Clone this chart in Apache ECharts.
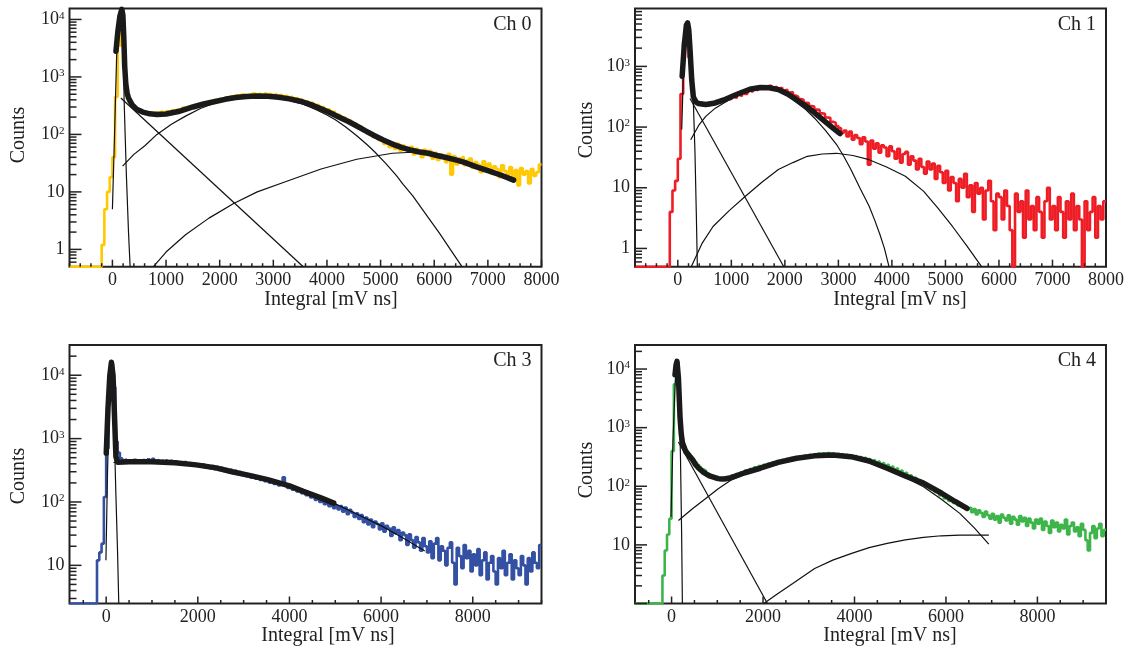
<!DOCTYPE html>
<html><head><meta charset="utf-8">
<script src="https://cdn.jsdelivr.net/npm/echarts@6.0.0/dist/echarts.min.js"></script>
<style>html,body{margin:0;padding:0;background:#fff}#c{width:1133px;height:648px}</style>
</head><body><div id="c"></div>
<script>
// ---------- DATA (bin width 50 mV ns, first bin edge -800) ----------
const ch0Counts = [
0,0,0,0,0,0,0,0,0,0,
0,0,1.2,5,10,18,40,450,3500,9500,
1400,480,360,300,292,262,270,240,248,228,
236,218,242,226,248,222,252,238,262,244,
270,248,292,266,276,305,318,296,336,312,
352,330,372,350,396,368,415,392,438,410,
462,432,478,450,495,470,482,505,518,490,
512,480,520,492,508,478,500,470,488,455,
472,440,450,418,430,398,405,372,380,350,
355,320,328,298,300,272,276,245,250,222,
218,196,196,172,176,152,156,134,138,118,
118,102,104,90,92,80,82,68,76,60,
72,56,69,52,64,58,50,61,45,56,
49,40,54,44,52,38,48,36,45,40,
33,46,20,42,30,38,41,29,35,38,
26,33,30,22,34,27,31,21,28,25,
18,29,23,20,27,16,24,13,26,20,
23,14,25,19,22,30];
const ch1Counts = [
0,0,0,0,0,0,0,0,0,0,
0,0,0,4,9,13,30,350,2600,5000,
1400,400,290,245,252,230,246,228,252,238,
268,250,285,268,305,284,322,300,345,322,
382,352,405,378,430,400,455,425,472,440,
478,442,465,428,448,405,410,372,378,332,
318,290,282,252,250,222,218,194,192,168,
166,144,142,122,118,104,96,80,88,70,
84,62,74,66,52,68,58,24,60,44,
54,38,50,46,33,48,40,30,44,26,
36,39,24,33,28,20,30,22,17,27,
20,25,14,23,18,12,19,9,15,12,
6,14,10,17,7,11,4,12,8,10,
3,9,13,6,2,8,7,3,9,5,
2,0,8,4,6,1.5,9,3,5,2,
7,4,1.5,6,10,3,5,2,7,4,
1.5,6,3,8,2,5,3,0,6,2,
4,7,1.5,5,3,6];
const ch3Counts = [
0,0,0,0,0,0,0,0,0,0,
0,0,12,16,22,120,700,6000,15000,6500,
900,600,490,455,470,428,452,420,462,430,
448,415,458,425,470,432,478,440,462,428,
455,418,450,412,446,408,440,402,432,398,
428,390,418,382,410,372,400,362,390,352,
378,342,368,330,356,320,345,308,332,298,
322,288,310,276,298,266,285,254,272,242,
262,232,250,222,240,212,230,202,218,192,
208,182,198,245,188,166,178,156,168,146,
158,138,148,128,138,118,128,108,118,100,
110,92,102,86,96,80,88,76,86,70,
82,64,75,68,58,66,54,62,48,57,
44,53,40,49,45,37,46,34,42,38,
29,40,32,36,25,33,30,21,31,25,
19,28,23,17,27,20,16,24,13,22,
27,12,20,17,10,19,23,11,5,19,
14,9,21,13,17,8,15,10,18,7,
12,16,6,11,14,8,5,13,9,17,
7,11,15,6,12,9,7,14,10,5,
13,8,16,11,9,21];
const ch4Counts = [
0,0,0,0,0,0,0,0,0,0,
0,0,3,8,15,28,400,5500,13000,2000,
650,480,410,360,320,288,258,232,212,195,
185,162,160,142,146,132,140,126,138,130,
142,132,152,140,162,150,172,160,185,172,
196,182,210,194,222,205,232,215,244,226,
256,236,268,248,280,260,290,270,302,282,
312,292,322,302,334,312,345,322,352,330,
360,336,365,340,368,342,366,340,362,336,
358,330,350,322,342,314,334,305,322,294,
310,282,296,268,282,255,268,240,252,226,
236,210,220,194,204,180,188,165,172,150,
156,136,142,122,128,110,116,100,104,90,
92,80,82,70,72,62,66,56,60,52,
54,47,50,44,46,41,44,36,41,33,
39,35,30,37,32,28,34,27,31,24,
33,29,26,32,23,30,27,22,31,25,
29,21,28,24,19,27,23,28,18,25,
21,16,26,20,24,17,22,19,27,15,
21,24,17,20,14,23,18,12,8,16,
21,13,19,23,14,18];

// fit curves [x, counts]
const ch0Total = [[66,2800],[100,6000],[140,11500],[175,15000],[195,12000],[212,5000],[230,1500],[250,750],[275,520],[300,430],[366,330],[450,275],[565,245],[700,228],[830,222],[1000,226],[1230,250],[1500,300],[1700,338],[1895,370],[2100,408],[2300,438],[2500,458],[2690,468],[2900,462],[3100,444],[3300,415],[3500,378],[3700,330],[3890,280],[4050,240],[4200,205],[4400,168],[4556,140],[4720,115],[4888,95],[5050,80],[5220,68],[5400,59],[5550,54],[5700,50],[5886,47],[6050,43],[6200,40],[6400,36],[6550,33],[6800,27],[7000,23.5],[7250,19.5],[7480,16]];
const ch0Pedestal = [[0,5],[40,100],[80,2500],[130,9000],[180,15500],[200,9000],[218,400],[260,20],[300,2],[330,0.5]];
const ch0Exp = [[158,430],[3558,0.5]];
const ch0Spe = [[190,28],[400,45],[600,63],[831,100],[1100,150],[1363,208],[1650,285],[1895,345],[2100,392],[2300,430],[2500,455],[2690,462],[2900,452],[3100,428],[3300,392],[3558,335],[3800,270],[4000,218],[4156,180],[4350,135],[4556,95],[4750,66],[4888,50],[5100,31],[5300,19],[5420,13.5],[5600,8.5],[5886,3.6],[6100,1.9],[6300,1.0],[6517,0.5]];
const ch0TwoPe = [[765,0.5],[1000,0.9],[1363,1.8],[1800,3.5],[2260,6.3],[2700,10],[3225,15],[3890,25],[4556,37],[5220,47],[5600,49],[5886,47],[6200,41],[6550,32],[7000,23.4],[7480,16]];

const ch1Total = [[81,690],[120,2200],[160,4800],[183,5200],[205,4000],[228,1900],[260,600],[289,320],[330,260],[387,245],[522,235],[700,250],[861,280],[1030,325],[1200,375],[1370,425],[1540,450],[1710,445],[1878,415],[2050,352],[2217,282],[2390,222],[2556,172],[2730,128],[2895,97],[3031,78]];
const ch1Pedestal = [[73,91],[100,600],[130,2500],[160,4600],[183,5200],[210,4000],[240,1800],[270,600],[289,280],[320,40],[345,4],[365,0.5]];
const ch1Exp = [[228,295],[1980,0.5]];
const ch1Spe = [[241,62],[400,110],[522,150],[700,205],[861,250],[1030,305],[1200,360],[1370,410],[1539,435],[1700,428],[1878,395],[2050,330],[2217,255],[2390,195],[2556,140],[2750,90],[2963,52],[3100,33],[3234,20],[3400,10],[3573,5],[3680,2.9],[3776,1.7],[3860,1.0],[3946,0.5]];
const ch1TwoPe = [[251,0.5],[450,1.2],[658,2.3],[960,4.2],[1268,7.3],[1570,12.3],[1878,20],[2150,26],[2420,33],[2700,36],[2963,37],[3270,34],[3573,29],[3900,22],[4251,15.5],[4590,8.8],[4860,4.6],[5132,2.3],[5400,1.1],[5675,0.5]];

const ch3Total = [[2,590],[40,3000],[80,10000],[115,16000],[150,10000],[185,2000],[213,520],[252,425],[500,430],[1000,430],[1500,415],[1965,385],[2400,345],[2745,300],[3150,260],[3524,225],[4000,180],[4303,147],[4700,115],[4966,96]];
const ch3Pedestal = [[-5,12],[30,300],[70,4000],[115,16000],[160,4000],[210,150],[250,15],[275,2.5]];
const ch3Spe = [[158,420],[600,432],[1186,420],[1965,382],[2350,345],[2745,298],[3130,258],[3524,222],[3900,185],[4303,146],[4630,120],[4966,96],[5478,64],[6017,41.6],[6480,27],[6952,16.8]];

const ch4Total = [[75,8000],[100,12000],[118,13500],[150,7000],[185,1500],[210,800],[236,560],[311,390],[450,290],[522,235],[589,205],[700,172],[827,150],[1020,135],[1150,133],[1303,140],[1600,170],[1938,203],[2330,255],[2732,300],[3128,330],[3525,340],[3922,320],[4320,270],[4715,203],[5110,150],[5509,113],[5906,76],[6200,55],[6460,42]];
const ch4Pedestal = [[-13,30],[30,600],[80,6000],[118,13500],[160,5000],[195,300],[220,15],[236,1]];
const ch4Exp = [[150,570],[2096,1]];
const ch4Spe = [[150,26],[450,41],[747,62],[1020,91],[1303,128],[1620,162],[1938,195],[2330,245],[2732,290],[3128,316],[3525,330],[3922,312],[4320,251],[4715,190],[5110,141],[5509,98],[5900,60],[6302,34.5],[6620,19.5],[6937,10.3]];
const ch4TwoPe = [[2017,1],[2335,1.5],[2650,2.2],[3128,3.96],[3525,5.5],[3922,7.1],[4320,9.0],[4715,10.6],[5110,12.2],[5509,13.4],[5900,14.3],[6302,14.7],[6937,14.7]];

const panelTitles = ['Ch 0', 'Ch 1', 'Ch 3', 'Ch 4'];
const yDecades = [0.1, 1, 10, 100, 1000, 10000];
const minorMult = [2, 3, 4, 5, 6, 7, 8, 9];
const xTitle = 'Integral [mV ns]';
const yTitle = 'Counts';

// ---------- LAYOUT ----------
const FONT = '"Liberation Serif", "DejaVu Serif", serif';
const INK = '#222';
const panels = [
  {counts: ch0Counts, color: '#FFC800', total: ch0Total, thin: [ch0Pedestal, ch0Exp, ch0Spe, ch0TwoPe],
   xMin: -800, xMax: 8000, yMin: 0.5, yMax: 15500, labelStep: 1000, minorStep: 200,
   grid: {left: 69.5, top: 8.5, width: 472, height: 258.2}, countsPos: [19, 135], xNamePos: [331, 300]},
  {counts: ch1Counts, color: '#EE1C24', total: ch1Total, thin: [ch1Pedestal, ch1Exp, ch1Spe, ch1TwoPe],
   xMin: -800, xMax: 8000, yMin: 0.5, yMax: 9000, labelStep: 1000, minorStep: 200,
   grid: {left: 635, top: 8.5, width: 471, height: 258.2}, countsPos: [587, 130], xNamePos: [900, 300]},
  {counts: ch3Counts, color: '#3450A2', total: ch3Total, thin: [ch3Pedestal, ch3Spe],
   xMin: -800, xMax: 9500, yMin: 2.5, yMax: 30000, labelStep: 2000, minorStep: 500,
   grid: {left: 69.5, top: 345, width: 472, height: 258.5}, countsPos: [19, 476], xNamePos: [328, 636]},
  {counts: ch4Counts, color: '#3DB54A', total: ch4Total, thin: [ch4Pedestal, ch4Exp, ch4Spe, ch4TwoPe],
   xMin: -800, xMax: 9500, yMin: 1, yMax: 25700, labelStep: 2000, minorStep: 500,
   grid: {left: 635, top: 345, width: 471, height: 258.5}, countsPos: [587, 470], xNamePos: [890, 636]}
];
const BIN_START = -800, BIN_W = 50;

function histData(counts, floor) {
  const d = counts.map((c, i) => [BIN_START + i * BIN_W, c > 0 ? c : floor]);
  d.push([BIN_START + counts.length * BIN_W, d[d.length - 1][1]]);
  return d;
}
function tickData(p) {
  const items = [];
  yDecades.forEach(d => {
    if (d >= p.yMin && d <= p.yMax) items.push([p.xMin, d, 0]);
    minorMult.forEach(m => { const v = d * m; if (v > p.yMin && v < p.yMax) items.push([p.xMin, v, 1]); });
  });
  for (let v = Math.ceil(p.xMin / p.minorStep) * p.minorStep; v <= p.xMax; v += p.minorStep) {
    items.push([v, p.yMin, v % p.labelStep === 0 ? 2 : 3]);
  }
  return items;
}
function yFmt(v) {
  const l = Math.log10(v), e = Math.round(l);
  if (Math.abs(l - e) > 1e-6 || e < 0) return '';
  if (e === 0) return '{b|1}';
  if (e === 1) return '{b|10}';
  return '{b|10}{s|' + e + '}';
}

const grids = [], xAxes = [], yAxes = [], series = [], graphics = [];
panels.forEach((p, i) => {
  grids.push(Object.assign({show: true, borderColor: INK, borderWidth: 2, backgroundColor: 'transparent', containLabel: false}, p.grid));
  xAxes.push({type: 'value', gridIndex: i, min: p.xMin, max: p.xMax, interval: 100,
    axisLine: {show: false}, axisTick: {show: false}, splitLine: {show: false},
    axisLabel: {margin: 5, color: INK, fontFamily: FONT, fontSize: 18,
      formatter: v => (v >= 0 && Math.round(v) % p.labelStep === 0) ? String(Math.round(v)) : ''}});
  yAxes.push({type: 'log', gridIndex: i, min: p.yMin, max: p.yMax, logBase: 10,
    axisLine: {show: false}, axisTick: {show: false}, splitLine: {show: false},
    axisLabel: {margin: 5, showMinLabel: false, showMaxLabel: false, formatter: yFmt,
      rich: {b: {fontFamily: FONT, fontSize: 18, color: INK}, s: {fontFamily: FONT, fontSize: 11, color: INK, verticalAlign: 'top'}}}});
  series.push({type: 'line', xAxisIndex: i, yAxisIndex: i, step: 'end', data: histData(p.counts, p.yMin),
    symbol: 'none', silent: true, z: 2, lineStyle: {color: p.color, width: 2.6}});
  p.thin.forEach(curve => {
    series.push({type: 'line', xAxisIndex: i, yAxisIndex: i, data: curve, symbol: 'none', silent: true, z: 3,
      smooth: false, lineStyle: {color: '#111', width: 1.2}});
  });
  series.push({type: 'line', xAxisIndex: i, yAxisIndex: i, data: p.total, symbol: 'none', silent: true, z: 4,
    smooth: false, lineStyle: {color: '#1a1a1a', width: 5.5, join: 'round', cap: 'round'}});
  series.push({type: 'custom', xAxisIndex: i, yAxisIndex: i, data: tickData(p), silent: true, z: 6,
    encode: {x: 0, y: 1},
    renderItem: (params, api) => {
      const cs = params.coordSys;
      const kind = api.value(2);
      const pt = api.coord([api.value(0), api.value(1)]);
      let shape;
      if (kind < 2) {
        const len = kind === 0 ? 12 : 7;
        shape = {x1: cs.x, y1: pt[1], x2: cs.x + len, y2: pt[1]};
      } else {
        const len = kind === 2 ? 7 : 3.5;
        const yb = cs.y + cs.height;
        shape = {x1: pt[0], y1: yb, x2: pt[0], y2: yb - len};
      }
      return {type: 'line', shape: shape, style: {stroke: INK, lineWidth: 1.5}};
    }});
  graphics.push({type: 'text', x: p.countsPos[0], y: p.countsPos[1], rotation: Math.PI / 2,
    style: {text: yTitle, font: '20px ' + FONT, fill: INK, align: 'center', verticalAlign: 'middle'}});
  graphics.push({type: 'text', x: p.xNamePos[0], y: p.xNamePos[1],
    style: {text: xTitle, font: '20px ' + FONT, fill: INK, align: 'center', verticalAlign: 'middle'}});
  graphics.push({type: 'text', x: p.grid.left + p.grid.width - 10, y: p.grid.top + 16,
    style: {text: panelTitles[i], font: '20px ' + FONT, fill: INK, align: 'right', verticalAlign: 'middle'}});
});

const chart = echarts.init(document.getElementById('c'), null, {renderer: 'canvas'});
chart.setOption({animation: false, backgroundColor: '#fff', grid: grids, xAxis: xAxes, yAxis: yAxes, series: series, graphic: graphics});
</script></body></html>
